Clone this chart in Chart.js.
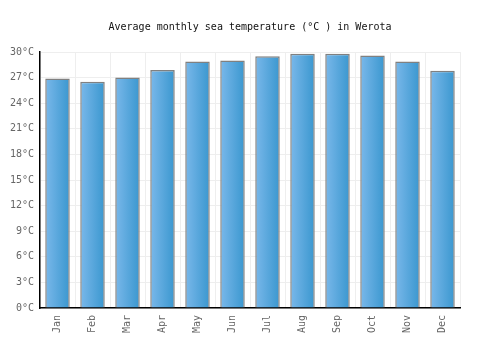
<!DOCTYPE html>
<html>
<head>
<meta charset="utf-8">
<script src="https://cdn.jsdelivr.net/npm/chart.js@4/dist/chart.umd.min.js"></script>
<style>
  html, body { margin: 0; padding: 0; background: #fff; }
  #wrap { width: 500px; height: 350px; }
</style>
</head>
<body>
<div id="wrap"><canvas id="chart-sea"></canvas></div>
<script>
const months = ["Jan", "Feb", "Mar", "Apr", "May", "Jun", "Jul", "Aug", "Sep", "Oct", "Nov", "Dec"]
const seaTemp = [26.9, 26.5, 27.0, 27.9, 28.9, 29.0, 29.5, 29.8, 29.8, 29.6, 28.9, 27.8]
const yTicks = [0, 3, 6, 9, 12, 15, 18, 21, 24, 27, 30]

const FONT = "'DejaVu Sans Mono', monospace"

// horizontal gradient on every bar
const barGradient = {
  id: "barGradient",
  beforeDatasetsDraw(chart) {
    const ctx = chart.ctx
    chart.getDatasetMeta(0).data.forEach(bar => {
      const left = bar.x - bar.width / 2
      const g = ctx.createLinearGradient(left, 0, left + bar.width, 0)
      g.addColorStop(0, "#7ab8ea")
      g.addColorStop(1, "#3a97cf")
      bar.options.backgroundColor = g
    })
  }
}

new Chart(document.getElementById("chart-sea"), {
  type: "bar",
  data: {
    labels: months,
    datasets: [{
      data: seaTemp,
      // scriptable so every bar keeps its own options object
      backgroundColor: () => "#5aa8de",
      borderColor: "#808080",
      borderWidth: 1.5,
      borderSkipped: "bottom",
      barPercentage: 0.7,
      categoryPercentage: 1
    }]
  },
  options: {
    responsive: true,
    maintainAspectRatio: false,
    animation: false,
    layout: { padding: 0 },
    plugins: {
      legend: { display: false },
      tooltip: { enabled: false },
      title: {
        display: true,
        text: "Average monthly sea temperature (°C ) in Werota",
        color: "#111",
        font: { family: FONT, size: 10, weight: "normal" },
        padding: { top: 21, bottom: 19 }
      }
    },
    scales: {
      x: {
        grid: { color: "#eeeeee", offset: true, drawTicks: false },
        border: { color: "#000", width: 1.5 },
        ticks: {
          color: "#666",
          font: { family: FONT, size: 10 },
          maxRotation: 90,
          minRotation: 90,
          padding: 7
        },
        afterFit(scale) { scale.height = 42 }
      },
      y: {
        min: 0,
        max: 30,
        afterBuildTicks(scale) { scale.ticks = yTicks.map(v => ({ value: v })) },
        grid: { color: "#eeeeee", drawTicks: false },
        border: { color: "#000", width: 1.5 },
        ticks: {
          color: "#666",
          font: { family: FONT, size: 10 },
          padding: 6,
          callback: v => v + "°C"
        },
        afterFit(scale) { scale.width = 40 }
      },
      // empty right margin, keeps the title centred on the page
      spacer: {
        type: "linear",
        position: "right",
        grid: { display: false },
        border: { display: false },
        ticks: { display: false },
        afterFit(scale) { scale.width = 40 }
      }
    }
  },
  plugins: [barGradient]
})
</script>
</body>
</html>
